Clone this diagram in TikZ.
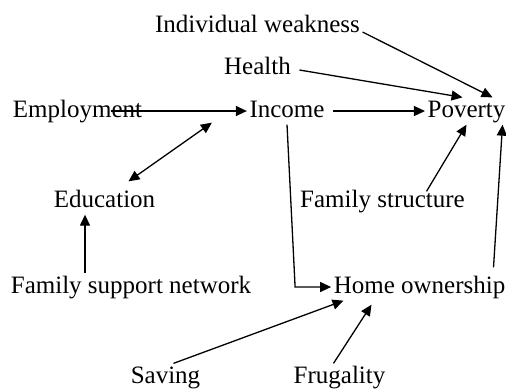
\documentclass[tikz,border=0pt]{standalone}
\usepackage{fontspec}
\setmainfont{Liberation Serif}
\usetikzlibrary{arrows.meta}

\begin{document}
\begin{tikzpicture}[x=0.5pt,y=-0.5pt,line width=0.65pt,
  >={Triangle[length=5.5pt,width=5pt]},
  txt/.style={anchor=base,inner sep=1pt,text height=8.5pt,text depth=2.5pt,
    font=\fontsize{12.5}{15}\selectfont}]
\useasboundingbox (0,0) rectangle (506,388);

\coordinate (W) at (257.5,32);
\coordinate (H) at (257.5,74);
\coordinate (E) at (77.5,117);
\coordinate (I) at (287,117);
\coordinate (P) at (466.5,117);
\coordinate (Ed) at (104.5,207);
\coordinate (FS) at (382.5,207);
\coordinate (FN) at (131,293);
\coordinate (HO) at (419.5,293);
\coordinate (S) at (165.5,383);
\coordinate (Fr) at (339.5,383);


\node[txt] (W1) at (W) {Individual weakness};
\node[txt] (H1) at (H) {Health};
\node[txt] (E1) at (E) {Employment};
\node[txt] (I1) at (I) {Income};
\node[txt] (P1) at (P) {Poverty};
\node[txt] (Ed1) at (Ed) {Education};
\node[txt] (FS1) at (FS) {Family structure};
\node[txt] (FN1) at (FN) {Family support network};
\node[txt] (HO1) at (HO) {Home ownership};
\node[txt] (S1) at (S) {Saving};
\node[txt] (Fr1) at (Fr) {Frugality};

\draw[->] ([xshift=-17pt]E1.east) -- (I1.west);
\draw[->] ([xshift=3pt]I1.east) -- (P1.west);
\draw[->] ([shift={(3pt,-1pt)}]H1.east) -- ([xshift=-2pt]P1.north);
\draw[->] ([yshift=-3pt]W1.east) -- ([xshift=13pt]P1.north);
\draw[<->] ([shift={(12pt,3pt)}]Ed1.north) -- ([shift={(-17.5pt,1pt)}]I1.south west);
\draw[->] ([xshift=-23pt]FN1.north) -- ([xshift=-23pt]FN1.north |- Ed1.south);
\draw[->] (I1.south) -- ([xshift=-18pt]HO1.west) -- (HO1.west);
\draw[->] ([shift={(22pt,-2pt)}]FS1.north) -- (P1.south);
\draw[->] ([shift={(37pt,3pt)}]HO1.north) -- ([xshift=18pt]P1.south);
\draw[->] ([xshift=4pt]S1.north) -- ([xshift=-38pt]HO1.south);
\draw[->] ([xshift=-3pt]Fr1.north) -- ([shift={(-24pt,-2pt)}]HO1.south);


\end{tikzpicture}
\end{document}
